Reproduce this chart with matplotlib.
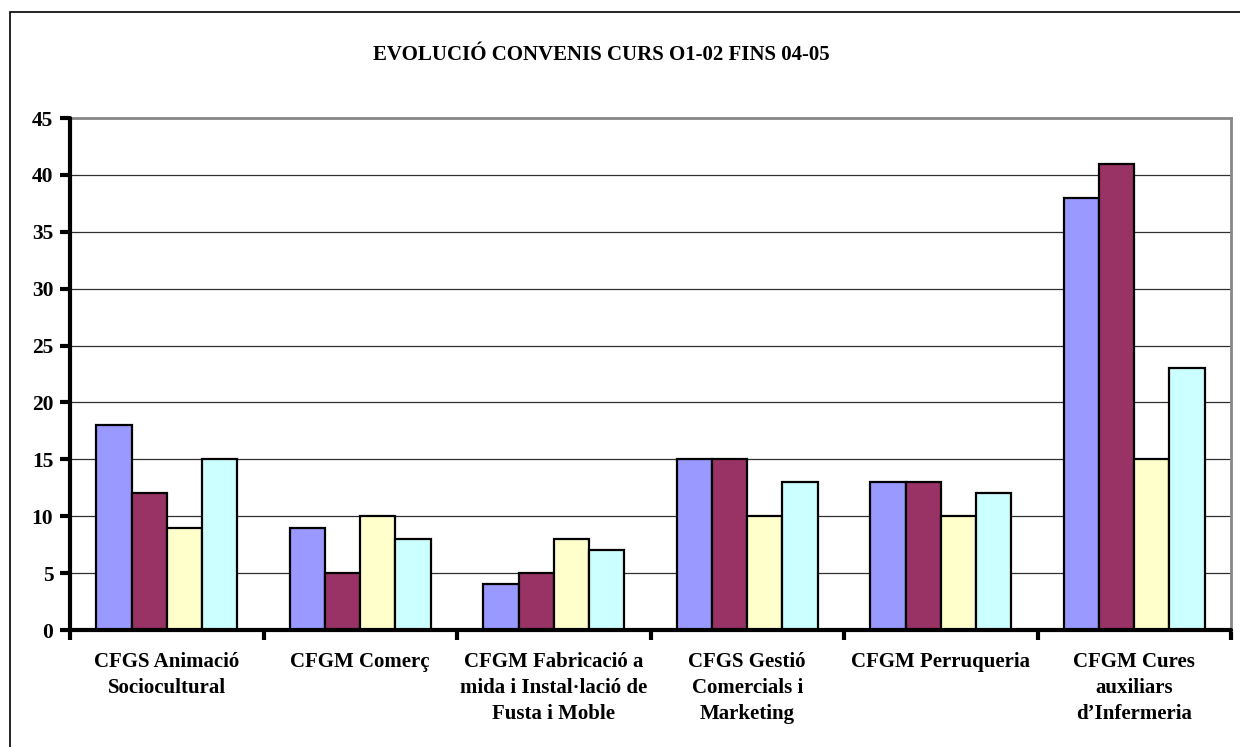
import numpy as np
import matplotlib.pyplot as plt
from matplotlib.patches import Rectangle

plt.rcParams['font.family'] = ['Liberation Serif', 'DejaVu Serif']
plt.rcParams['font.weight'] = 'bold'

categories = [
    "CFGS Animació\nSociocultural",
    "CFGM Comerç",
    "CFGM Fabricació a\nmida i Instal·lació de\nFusta i Moble",
    "CFGS Gestió\nComercials i\nMarketing",
    "CFGM Perruqueria",
    "CFGM Cures\nauxiliars\nd\u2019Infermeria",
]
curs_01_02 = [18, 9, 4, 15, 13, 38]
curs_02_03 = [12, 5, 5, 15, 13, 41]
curs_03_04 = [9, 10, 8, 10, 10, 15]
curs_04_05 = [15, 8, 7, 13, 12, 23]
series = [curs_01_02, curs_02_03, curs_03_04, curs_04_05]
colors = ['#9999FF', '#993366', '#FFFFCC', '#CCFFFF']
yticks = list(range(0, 50, 5))

fig = plt.figure(figsize=(12.4, 7.47), dpi=100)
fig.patches.append(Rectangle((10 / 1240, -0.1), 1.1, (747 - 12) / 747 + 0.1,
                             transform=fig.transFigure, fill=False,
                             edgecolor='black', lw=1.2))

ax = fig.add_axes((70 / 1240, 117 / 747, 1161 / 1240, 512 / 747))

n = len(categories)
x = np.arange(n)
w = 1 / 5.5
for i, s in enumerate(series):
    ax.bar(x + (i - 1.5) * w, s, width=w, color=colors[i],
           edgecolor='black', lw=1.6, zorder=3)

ax.set_xlim(-0.5, n - 0.5)
ax.set_ylim(0, 45)
ax.set_yticks(yticks)
ax.set_yticklabels([str(t) for t in yticks], fontsize=15.5, fontweight='bold')
ax.yaxis.grid(True, color='#303030', lw=0.9, zorder=0)

ax.set_xticks(x)
ax.set_xticklabels(categories, fontsize=15, fontweight='bold', linespacing=1.38, va='top')
ax.set_xticks(np.arange(n + 1) - 0.5, minor=True)
ax.tick_params(axis='x', which='major', length=0, pad=16)
ax.tick_params(axis='x', which='minor', length=7, width=3, direction='out', color='black')
ax.tick_params(axis='y', length=7, width=3, direction='out', color='black', pad=5)

for side in ['left', 'bottom']:
    ax.spines[side].set_linewidth(3)
    ax.spines[side].set_color('black')
    ax.spines[side].set_capstyle('round')
for side in ['top', 'right']:
    ax.spines[side].set_linewidth(2)
    ax.spines[side].set_color('#888888')
ax.spines['left'].set_zorder(5)
ax.spines['bottom'].set_zorder(5)

fig.text(601 / 1240, 1 - 55 / 747, "EVOLUCIÓ CONVENIS CURS O1-02 FINS 04-05",
         ha='center', va='center', fontsize=15, fontweight='bold')

fig.savefig('out.png', dpi=100)
